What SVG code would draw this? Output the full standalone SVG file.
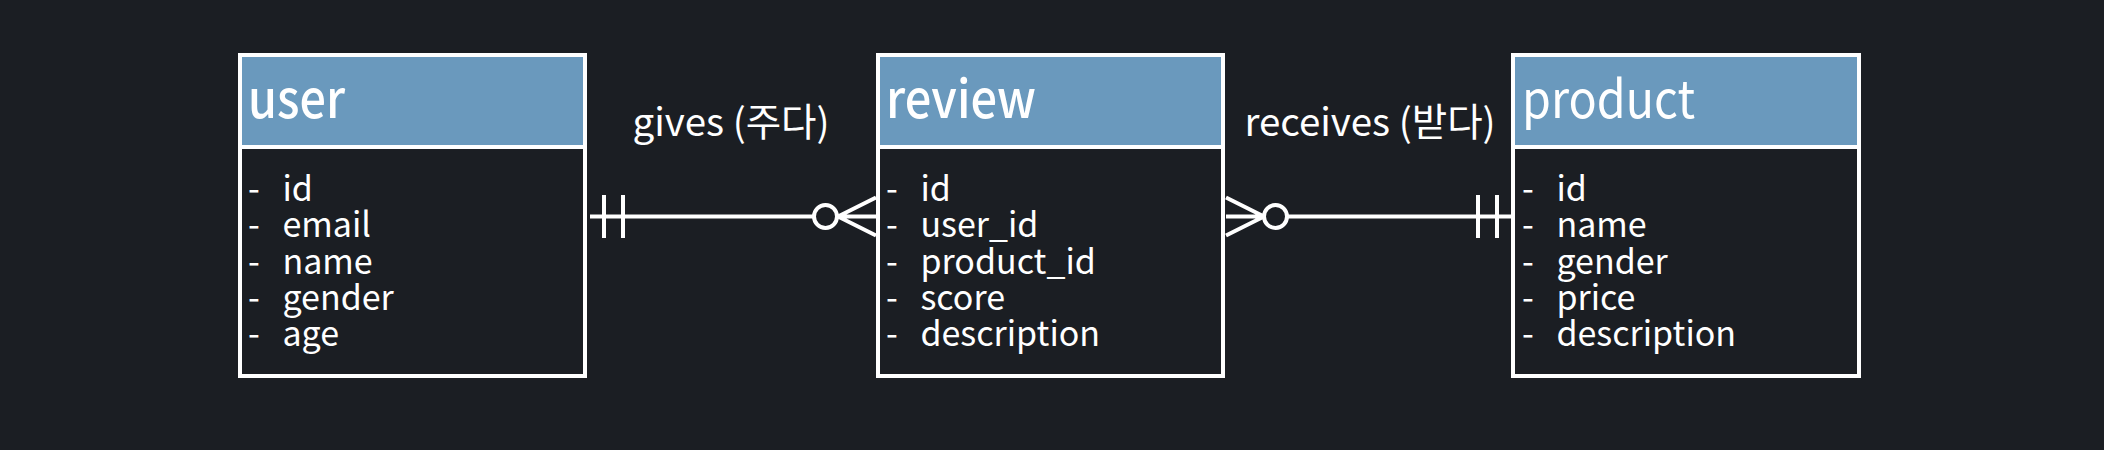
<svg xmlns="http://www.w3.org/2000/svg" width="2104" height="450" viewBox="0 0 2104 450">
<style>
.bg{fill:#1b1e23}
.box{fill:#1b1e23;stroke:#ffffff;stroke-width:4}
.hdr{fill:#6a99bd;stroke:#ffffff;stroke-width:4}
.title{font-family:"Noto Sans CJK KR","Noto Sans",sans-serif;font-size:52px;fill:#ffffff}
.b{font-weight:500}
.attr{font-family:"Noto Sans CJK KR","Noto Sans",sans-serif;font-size:34px;fill:#ffffff;word-spacing:15px}
.lbl{font-family:"Noto Sans CJK KR","Noto Sans",sans-serif;font-size:38.5px;fill:#ffffff;text-anchor:middle}
.ln{stroke:#ffffff;stroke-width:4;fill:none}
.circ{stroke:#ffffff;stroke-width:4;fill:#1b1e23}
</style>
<rect class="bg" x="0" y="0" width="2104" height="450"/>
<g id="user">
<rect class="box" x="240" y="55" width="345" height="321"/>
<rect class="hdr" x="240" y="55" width="345" height="92"/>
<text class="title b" x="248" y="118" textLength="97" lengthAdjust="spacingAndGlyphs">user</text>
<text class="attr" x="248" y="201">- id</text>
<text class="attr" x="248" y="237.3">- email</text>
<text class="attr" x="248" y="273.6">- name</text>
<text class="attr" x="248" y="309.9">- gender</text>
<text class="attr" x="248" y="346.2">- age</text>
</g>
<g id="review">
<rect class="box" x="878" y="55" width="345" height="321"/>
<rect class="hdr" x="878" y="55" width="345" height="92"/>
<text class="title b" x="886" y="118" textLength="150" lengthAdjust="spacingAndGlyphs">review</text>
<text class="attr" x="886" y="201">- id</text>
<text class="attr" x="886" y="237.3">- user_id</text>
<text class="attr" x="886" y="273.6">- product_id</text>
<text class="attr" x="886" y="309.9">- score</text>
<text class="attr" x="886" y="346.2">- description</text>
</g>
<g id="product">
<rect class="box" x="1513" y="55" width="346" height="321"/>
<rect class="hdr" x="1513" y="55" width="346" height="92"/>
<text class="title" x="1522" y="118" textLength="173" lengthAdjust="spacingAndGlyphs">product</text>
<text class="attr" x="1522" y="201">- id</text>
<text class="attr" x="1522" y="237.3">- name</text>
<text class="attr" x="1522" y="273.6">- gender</text>
<text class="attr" x="1522" y="309.9">- price</text>
<text class="attr" x="1522" y="346.2">- description</text>
</g>
<g id="connectors">
<g id="gives">
<path class="ln" d="M590 216.5H814M604 195V238M623 195V238M838 216.5L876 197.5M838 216.5H876M838 216.5L876 235.5"/>
<circle class="circ" cx="825.5" cy="216.5" r="11.5"/>
<text class="lbl" x="731" y="136">gives (주다)</text>
</g>
<g id="receives">
<path class="ln" d="M1226 197.5L1264 216.5M1226 216.5H1264M1226 235.5L1264 216.5M1287 216.5H1511M1478 195V238M1497 195V238"/>
<circle class="circ" cx="1275.5" cy="216.5" r="11.5"/>
<text class="lbl" x="1370" y="136">receives (받다)</text>
</g>
</g>
</svg>
